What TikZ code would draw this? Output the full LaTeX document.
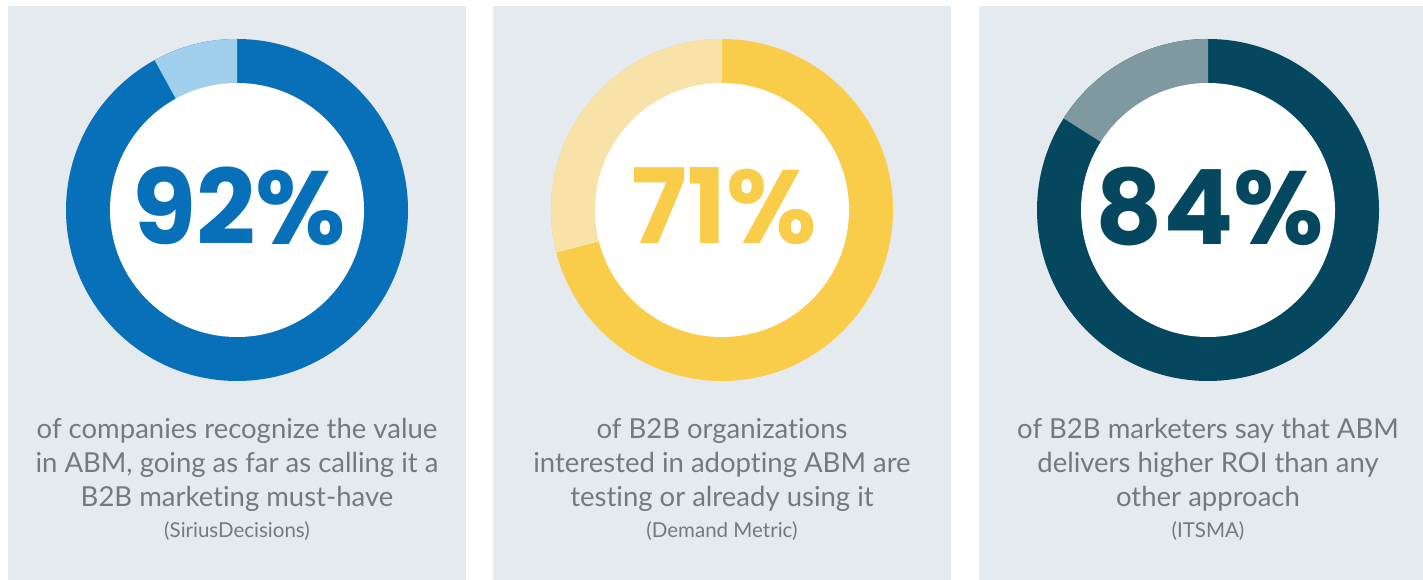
\documentclass[tikz,border=0pt]{standalone}
\usepackage{fontspec}
\setmainfont{Lato}[Ligatures={NoCommon}]
\newfontfamily\numfont{Poppins}
\definecolor{panelbg}{HTML}{E5EAEE}
\definecolor{txtgray}{HTML}{75797F}
\definecolor{blueD}{HTML}{0870B8}
\definecolor{blueL}{HTML}{A0D0EC}
\definecolor{yelD}{HTML}{F9CC4A}
\definecolor{yelL}{HTML}{F8E2A8}
\definecolor{tealD}{HTML}{05475F}
\definecolor{tealL}{HTML}{7E99A0}
\tikzset{
  panel/.style={fill=panelbg, draw=none, inner sep=0pt, minimum height=574pt},
  bignum/.style={font=\numfont\bfseries\fontsize{104}{104}\selectfont, inner sep=0pt, anchor=center},
  desc/.style={font=\fontsize{27.5}{34}\selectfont, text=txtgray, align=center, inner sep=0pt},
  src/.style={font=\fontsize{20.5}{22}\selectfont, text=txtgray, inner sep=0pt}
}
\begin{document}
\begin{tikzpicture}[x=1pt,y=1pt]
\useasboundingbox (0,0) rectangle (1423,580);
\fill[white] (0,0) rectangle (1423,580);
% panels
\node[panel, minimum width=458pt, anchor=south west] (p1) at (8,0) {};
\node[panel, minimum width=458pt, anchor=south west] (p2) at (493,0) {};
\node[panel, minimum width=444pt, anchor=south west] (p3) at (979,0) {};
% donut 1
\coordinate (c1) at (237,370);
\fill[blueD] (c1) circle (171);
\fill[blueL] (c1) -- ++(90:171) arc (90:118.8:171) -- cycle;
\fill[white] (c1) circle (127);
% donut 2
\coordinate (c2) at (722,370);
\fill[yelD] (c2) circle (171);
\fill[yelL] (c2) -- ++(90:171) arc (90:194.4:171) -- cycle;
\fill[white] (c2) circle (127);
% donut 3
\coordinate (c3) at (1208,370);
\fill[tealD] (c3) circle (171);
\fill[tealL] (c3) -- ++(90:171) arc (90:147.6:171) -- cycle;
\fill[white] (c3) circle (127);
% numbers
\node[bignum, text=blueD] (n1) at (239,374) {92\%};
\node[bignum, text=yelD] (n2) at (724,374) {71\%};
\node[bignum, text=tealD] (n3) at (1210,374) {84\%};
% descriptions
\node[desc] (d1) at (237,115) {of companies recognize the value\\in ABM, going as far as calling it a\\B2B marketing must-have};
\node[desc] (d2) at (722,115) {of B2B organizations\\interested in adopting ABM are\\testing or already using it};
\node[desc] (d3) at (1208,115) {of B2B marketers say that ABM\\delivers higher ROI than any\\other approach};
% sources
\node[src] (s1) at (237,49) {(SiriusDecisions)};
\node[src] (s2) at (722,49) {(Demand Metric)};
\node[src] (s3) at (1208,49) {(ITSMA)};
\end{tikzpicture}
\end{document}
